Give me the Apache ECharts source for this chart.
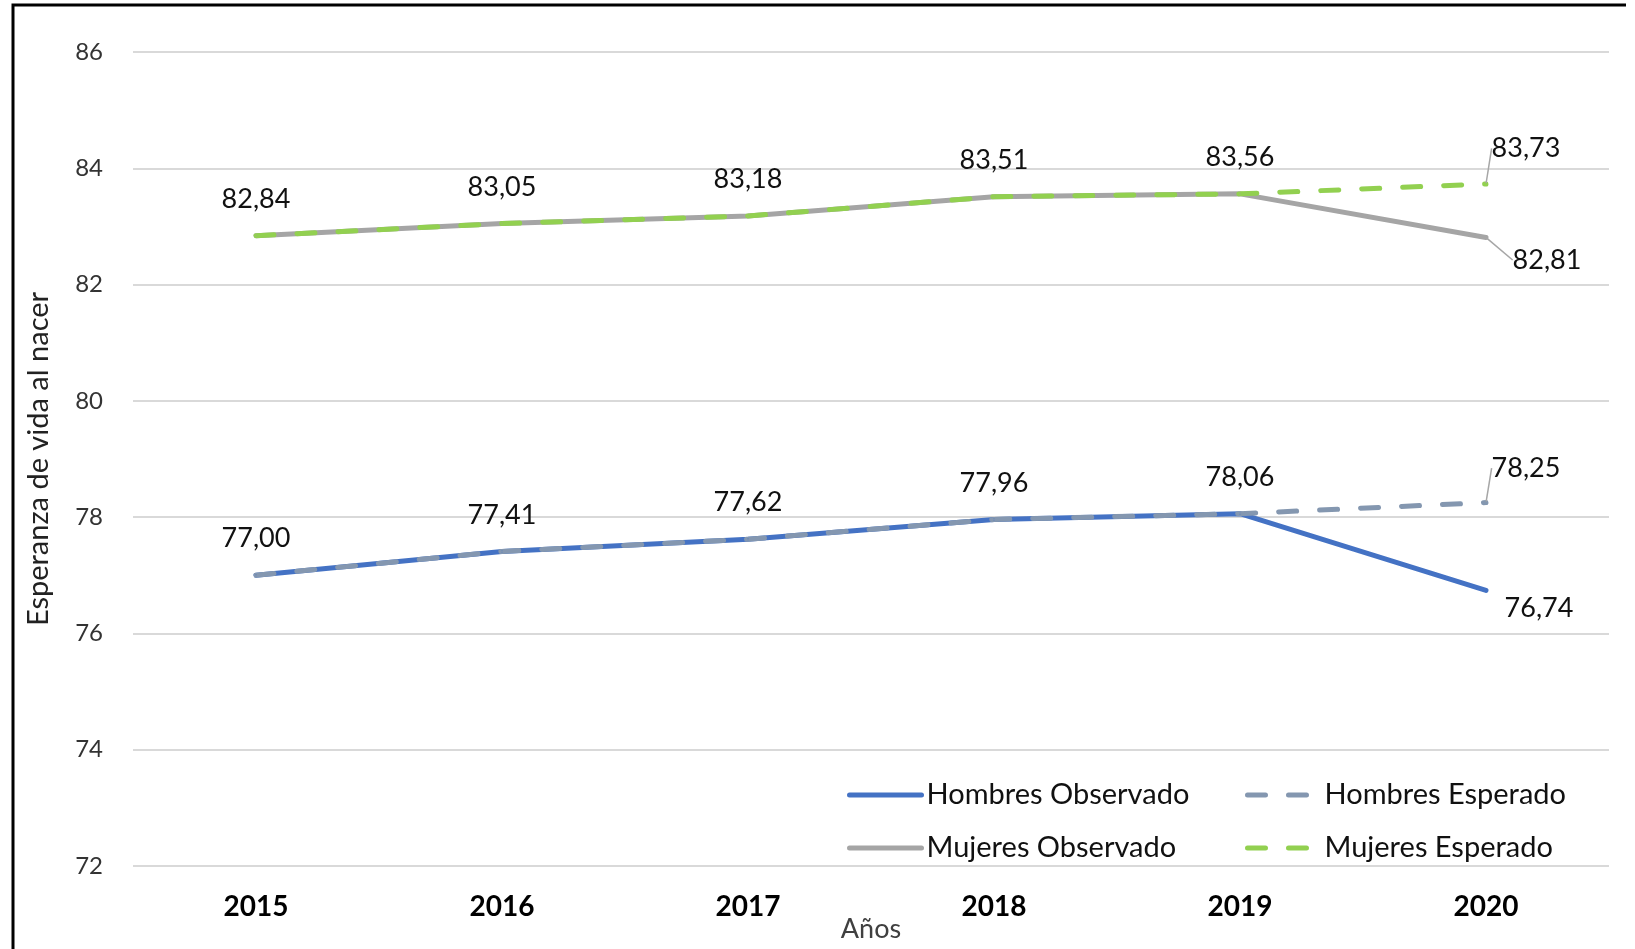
<!DOCTYPE html>
<html>
<head>
<meta charset="utf-8">
<title>Esperanza de vida al nacer</title>
<script src="https://cdn.jsdelivr.net/npm/echarts@6/dist/echarts.min.js"></script>
<style>
  html, body { margin: 0; padding: 0; background: #fff; }
  #chart { width: 1635px; height: 949px; }
</style>
</head>
<body>
<div id="chart"></div>
<script>
// categorías
const years = ['2015', '2016', '2017', '2018', '2019', '2020']

// series
const hombresObservado = [77.00, 77.41, 77.62, 77.96, 78.06, 76.74]
const hombresEsperado = [77.00, 77.41, 77.62, 77.96, 78.06, 78.25]
const mujeresObservado = [82.84, 83.05, 83.18, 83.51, 83.56, 82.81]
const mujeresEsperado = [82.84, 83.05, 83.18, 83.51, 83.56, 83.73]

// eje Y
const yMin = 72
const yMax = 86
const yStep = 2

const font = 'Lato, "Open Sans", sans-serif'
const fmt = (v) => v.toFixed(2).replace('.', ',')

// labels: expected series label every point, observed only the last one
function buildSeries(name, values, color, dashed, onlyLast, lastShift, leader) {
  const last = values.length - 1
  return {
    name,
    type: 'line',
    symbol: 'circle',
    symbolSize: 2,
    showSymbol: true,
    itemStyle: { color },
    lineStyle: {
      color,
      width: 5,
      type: dashed ? [18, 23] : 'solid',
      cap: 'round',
      join: 'round',
    },
    data: values.map((v, i) => ({
      value: v,
      label: { show: !onlyLast || i === last },
      labelLine: { show: leader && i === last },
    })),
    label: {
      position: 'top',
      distance: 22,
      fontFamily: font,
      fontSize: 27,
      color: '#111',
      formatter: (p) => fmt(p.value),
    },
    labelLine: {
      show: false,
      lineStyle: { color: '#a6a6a6', width: 1.5 },
    },
    labelLayout: (p) => (p.dataIndex === last ? { dx: lastShift[0], dy: lastShift[1] } : {}),
    emphasis: { disabled: true },
  }
}

const chart = echarts.init(document.getElementById('chart'))

const legendBase = {
  orient: 'vertical',
  top: 775,
  itemWidth: 72,
  itemHeight: 14,
  itemGap: 23,
  itemStyle: { opacity: 0 },
  lineStyle: { width: 5, cap: 'round' },
  textStyle: { fontFamily: font, fontSize: 29, color: '#111', lineHeight: 30 },
}

const option = {
  animation: false,
  grid: { left: 133, right: 26, top: 52, bottom: 83, outerBoundsMode: 'none' },
  graphic: [
    {
      type: 'polyline',
      shape: { points: [[13, 949], [13, 5], [1626, 5]] },
      style: { stroke: '#000', lineWidth: 3, fill: null },
      silent: true,
    },
    // título del eje X
    {
      type: 'text',
      x: 871,
      y: 929,
      style: {
        text: 'Años',
        fontFamily: font,
        fontSize: 27,
        fill: '#404040',
        align: 'center',
        verticalAlign: 'middle',
      },
      silent: true,
    },
  ],
  legend: [
    { ...legendBase, left: 842, data: ['Hombres Observado', 'Mujeres Observado'] },
    { ...legendBase, left: 1240, data: ['Hombres Esperado', 'Mujeres Esperado'] },
  ],
  xAxis: {
    type: 'category',
    data: years,
    boundaryGap: true,
    axisLine: { show: false },
    axisTick: { show: false },
    axisLabel: { fontFamily: font, fontSize: 28, fontWeight: 'bold', color: '#000', margin: 27 },
  },
  yAxis: {
    type: 'value',
    min: yMin,
    max: yMax,
    interval: yStep,
    name: 'Esperanza de vida al nacer',
    nameLocation: 'middle',
    nameGap: 80,
    nameTextStyle: { fontFamily: font, fontSize: 29, color: '#222' },
    axisLine: { show: false },
    axisTick: { show: false },
    axisLabel: { fontFamily: font, fontSize: 24, color: '#333', margin: 30 },
    splitLine: { lineStyle: { color: '#d9d9d9', width: 2 } },
  },
  series: [
    buildSeries('Hombres Observado', hombresObservado, '#4472c4', false, true, [53, 54], false),
    buildSeries('Hombres Esperado', hombresEsperado, '#8497b0', true, false, [40, 2], true),
    buildSeries('Mujeres Observado', mujeresObservado, '#a5a5a5', false, true, [61, 59], true),
    buildSeries('Mujeres Esperado', mujeresEsperado, '#92d050', true, false, [40, 1], true),
  ],
}

chart.setOption(option)
</script>
</body>
</html>
